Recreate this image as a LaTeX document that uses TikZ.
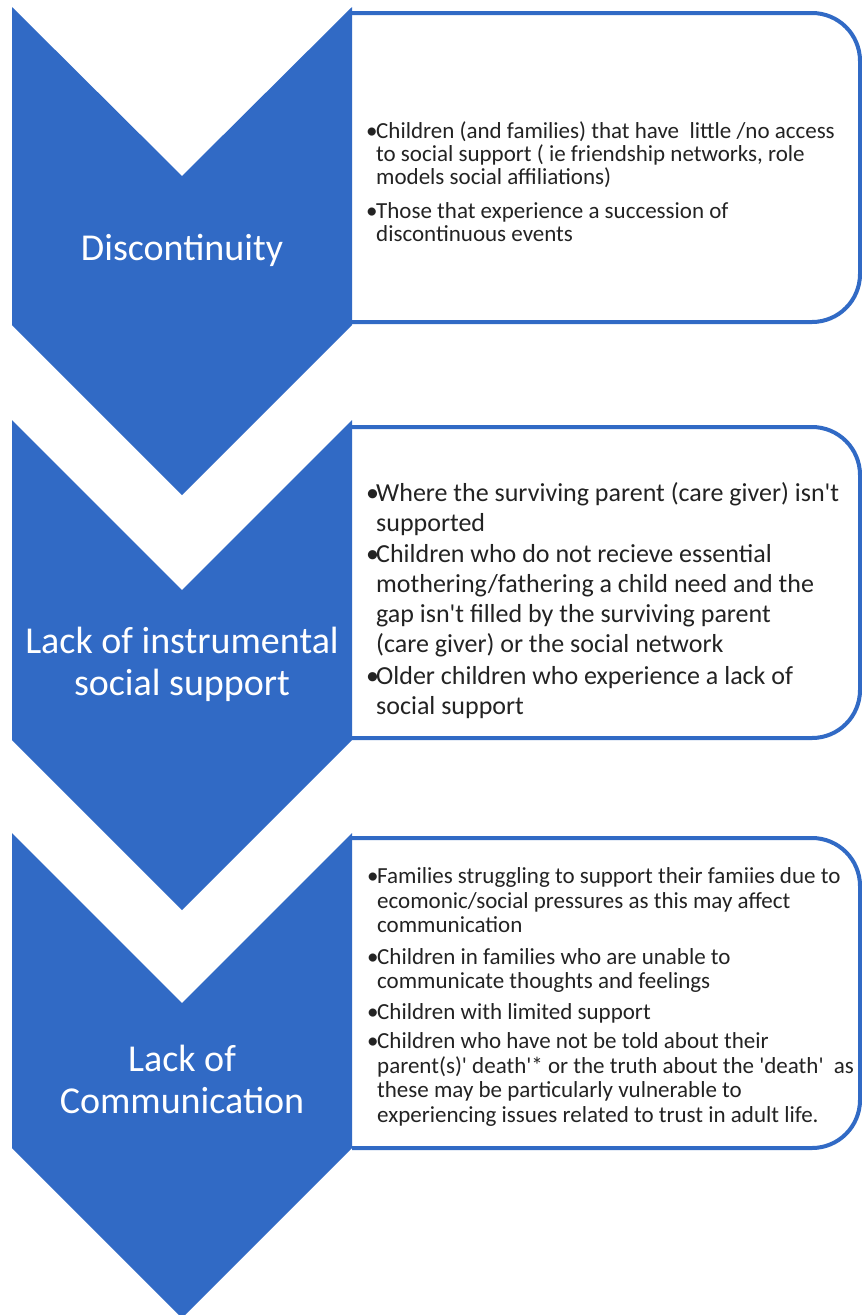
\documentclass[tikz,border=0pt]{standalone}
\usepackage{fontspec}
\setmainfont{Carlito}
\usetikzlibrary{positioning}

\definecolor{chevblue}{RGB}{49,106,197}
\definecolor{bodytext}{RGB}{35,35,35}

\newcommand{\bul}{\makebox[10pt][l]{\textbullet}}
\newcommand{\ind}{\hspace*{10pt}}
\newcommand{\q}{\textquotesingle}

\tikzset{
  chevron/.style={fill=chevblue},
  infobox/.style={draw=chevblue, line width=4pt, fill=white, rounded corners=48pt},
  headtext/.style={text=white, font=\fontsize{38}{42}\selectfont, align=center},
  itemtext/.style={text=bodytext, anchor=north west, align=left, inner sep=0pt},
}

\begin{document}
\begin{tikzpicture}[x=1pt,y=-1pt]
  \fill[white] (0,0) rectangle (862,1315);
  \useasboundingbox (0,0) rectangle (862,1315);

  % text boxes (left side hidden under the chevrons)
  \filldraw[infobox] (352,13) -- (860,13) -- (860,322) -- (352,322);
  \filldraw[infobox] (352,427) -- (860,427) -- (860,738) -- (352,738);
  \filldraw[infobox] (352,838) -- (860,838) -- (860,1148) -- (352,1148);

  % chevrons
  \fill[chevron] (12,7) -- (182,176) -- (352,7) -- (352,325) -- (182,495) -- (12,325) -- cycle;
  \fill[chevron] (12,420) -- (182,590) -- (352,420) -- (352,740) -- (182,910) -- (12,740) -- cycle;
  \fill[chevron] (12,833) -- (182,1003) -- (352,833) -- (352,1148) -- (182,1318) -- (12,1148) -- cycle;

  % chevron labels
  \node[headtext] (disc) at (182,250) {Discontinuity};
  \node[headtext] (instr) at (182,664) {Lack of instrumental\\social support};
  \node[headtext] (comm) at (182,1079) {Lack of\\Communication};

  % bullet lists
  \node[itemtext, font=\fontsize{23}{23}\selectfont] (disclist) at (366,121.5)
    {\bul Children (and families) that have\ \ little /no access\\
     \ind to social support ( ie friendship networks, role\\
     \ind models social affiliations)\\[11pt]
     \bul Those that experience a succession of\\
     \ind discontinuous events};

  \node[itemtext, font=\fontsize{26}{30}\selectfont] (instrlist) at (366,482)
    {\bul Where the surviving parent (care giver) isn\q t\\
     \ind supported\\[1pt]
     \bul Children who do not recieve essential\\
     \ind mothering/fathering a child need and the\\
     \ind gap isn\q t filled by the surviving parent\\
     \ind (care giver) or the social network\\[2pt]
     \bul Older children who experience a lack of\\
     \ind social support};

  \node[itemtext, font=\fontsize{23}{24.5}\selectfont] (commlist) at (367,867.5)
    {\bul Families struggling to support their famiies due to\\
     \ind ecomonic/social pressures as this may affect\\
     \ind communication\\[7pt]
     \bul Children in families who are unable to\\
     \ind communicate thoughts and feelings\\[6pt]
     \bul Children with limited support\\[5pt]
     \bul Children who have not be told about their\\
     \ind parent(s)\q\ death\q* or the truth about the \q death\q\ \ as\\
     \ind these may be particularly vulnerable to\\
     \ind experiencing issues related to trust in adult life.};
\end{tikzpicture}
\end{document}
